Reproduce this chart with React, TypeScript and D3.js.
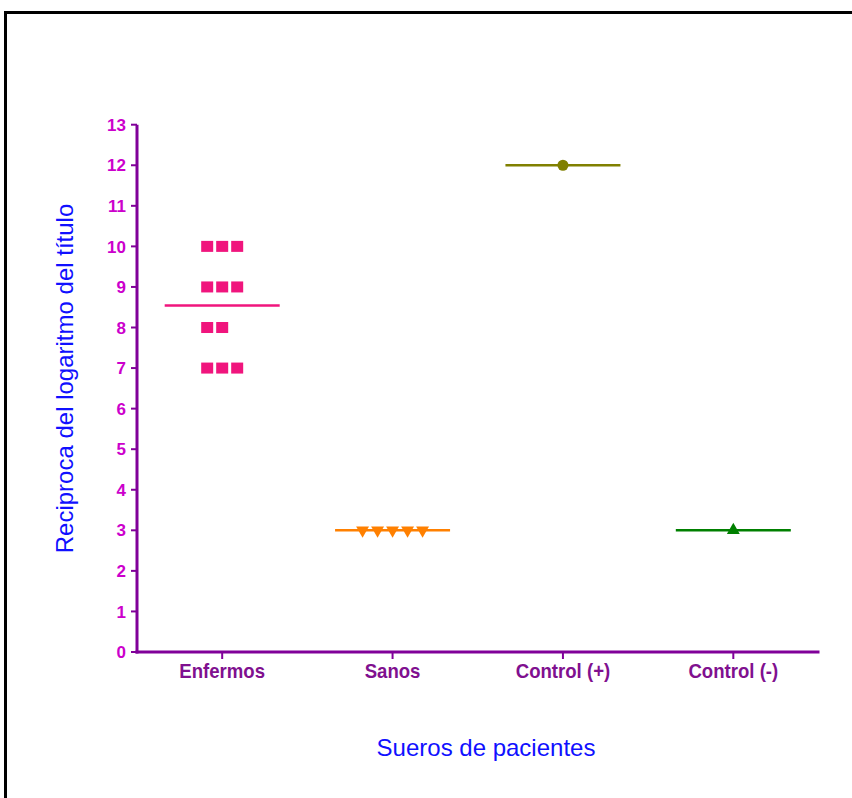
import React from "react";
import * as d3 from "d3";

const categories = ["Enfermos", "Sanos", "Control (+)", "Control (-)"];
const enfermos = [10, 10, 10, 9, 9, 9, 8, 8, 7, 7, 7];
const sanos = [3, 3, 3, 3, 3];
const controlPos = [12];
const controlNeg = [3];
const seriesValues = [enfermos, sanos, controlPos, controlNeg];
const seriesColors = ["#F0157D", "#FF8000", "#808000", "#008000"];
const seriesShapes = ["square", "triangleDown", "circle", "triangleUp"];
const yTicks = d3.range(0, 14);

const W = 852;
const H = 798;

export default function App() {
  const x = d3.scalePoint<string>().domain(categories).range([137, 818.5]).padding(0.5);
  const y = d3.scaleLinear().domain([0, 13]).range([652, 124.7]);
  const axisColor = "#800099";
  const tickColor = "#CC00CC";
  const labelColor = "#80108F";
  const titleColor = "#1010FF";

  const marks: React.ReactNode[] = [];
  seriesValues.forEach((vals, si) => {
    const cx = x(categories[si])!;
    const mean = d3.mean(vals)!;
    const color = seriesColors[si];
    marks.push(
      <line key={`m${si}`} x1={cx - 57.5} x2={cx + 57.5} y1={y(mean)} y2={y(mean)} stroke={color} strokeWidth={2.5} />
    );
    const groups = d3.group(vals, (v) => v);
    groups.forEach((arr, v) => {
      const n = arr.length;
      arr.forEach((_, i) => {
        const px = cx + (i - Math.floor(n / 2)) * 15;
        const py = y(v);
        const shape = seriesShapes[si];
        const k = `p${si}-${v}-${i}`;
        if (shape === "square") {
          marks.push(<rect key={k} x={px - 6} y={py - 5.5} width={12} height={11} fill={color} />);
        } else if (shape === "circle") {
          marks.push(<circle key={k} cx={px} cy={py} r={5.5} fill={color} />);
        } else {
          const d = d3.symbol().type(d3.symbolTriangle).size(72)()!;
          const rot = shape === "triangleDown" ? 180 : 0;
          marks.push(
            <path key={k} d={d} fill={color} transform={`translate(${px},${py}) rotate(${rot})`} />
          );
        }
      });
    });
  });

  return (
    <svg
      width={W}
      height={H}
      style={{ position: "absolute", left: 0, top: 0, display: "block", background: "#fff" }}
      fontFamily="Arial, 'Liberation Sans', sans-serif"
    >
      <rect x={5.5} y={12.5} width={W + 20} height={H + 20} fill="#fff" stroke="#000" strokeWidth={3} />
      {/* y axis */}
      <line x1={137} x2={137} y1={y(13)} y2={y(0) + 1.5} stroke={axisColor} strokeWidth={3} />
      {yTicks.map((t) => (
        <g key={t}>
          <line x1={131} x2={137} y1={y(t)} y2={y(t)} stroke={axisColor} strokeWidth={2} />
          <text x={126} y={y(t)} dy="0.36em" textAnchor="end" fontSize={17} fontWeight="bold" fill={tickColor}>
            {t}
          </text>
        </g>
      ))}
      {/* x axis */}
      <line x1={135.5} x2={819.5} y1={y(0)} y2={y(0)} stroke={axisColor} strokeWidth={3} />
      {categories.map((c) => (
        <g key={c}>
          <line x1={x(c)} x2={x(c)} y1={y(0)} y2={y(0) + 7} stroke={axisColor} strokeWidth={2} />
          <text
            transform={`translate(${x(c)},678) scale(0.93,1)`}
            textAnchor="middle"
            fontSize={20}
            fontWeight="bold"
            fill={labelColor}
          >
            {c}
          </text>
        </g>
      ))}
      {marks}
      <text
        transform={`translate(73,378.5) rotate(-90)`}
        textAnchor="middle"
        fontSize={24}
        fill={titleColor}
      >
        Reciproca del logaritmo del título
      </text>
      <text x={486} y={756} textAnchor="middle" fontSize={24} fill={titleColor}>
        Sueros de pacientes
      </text>
    </svg>
  );
}
